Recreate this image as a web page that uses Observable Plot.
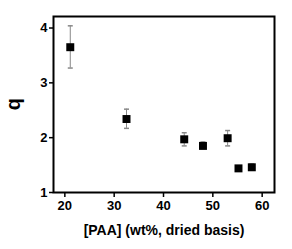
<!DOCTYPE html>
<html><head><meta charset="utf-8">
<script src="https://cdn.jsdelivr.net/npm/d3@7"></script>
<script src="https://cdn.jsdelivr.net/npm/@observablehq/plot@0.6"></script>
<style>body{margin:0;background:#fff}svg{display:block}</style>
</head><body><div id="c"></div>
<script>
const paa = [21.1, 32.5, 44.2, 48.0, 53.0, 55.2, 57.9];
const q = [3.65, 2.34, 1.97, 1.85, 1.99, 1.44, 1.46];
const qLow = [3.27, 2.17, 1.85, 1.80, 1.85, 1.41, 1.41];
const qHigh = [4.04, 2.52, 2.09, 1.92, 2.13, 1.47, 1.52];
const xTicks = [20, 30, 40, 50, 60];
const yTicks = [1, 2, 3, 4];
const xTitle = "[PAA] (wt%, dried basis)";
const yTitle = "q";
const data = paa.map((x, i) => ({x, q: q[i], lo: qLow[i], hi: qHigh[i]}));
const caps = data.flatMap(d => [{x: d.x, y: d.lo}, {x: d.x, y: d.hi}]);
const capSymbol = {draw(ctx, size) { const w = 2.5; ctx.moveTo(-w, 0); ctx.lineTo(w, 0); }};
const font = "'Liberation Sans', Arial, sans-serif";
const chart = Plot.plot({
  width: 292, height: 249,
  marginLeft: 53, marginRight: 18, marginTop: 16, marginBottom: 57,
  style: {fontFamily: font, fontWeight: "bold", fontSize: "13px", background: "#fff"},
  x: {domain: [17.7, 62.5]},
  y: {domain: [1, 4.21]},
  marks: [
    Plot.ruleX(data, {x: "x", y1: "lo", y2: "hi", stroke: "#888", strokeWidth: 1}),
    Plot.dot(caps, {x: "x", y: "y", symbol: capSymbol, stroke: "#888", fill: "none", r: 3}),
    Plot.dot(data, {x: "x", y: "q", symbol: "square", r: 4.5, fill: "black", stroke: "none"}),
    Plot.frame({stroke: "black", strokeWidth: 2}),
    Plot.axisX({ticks: xTicks, tickSize: 5, tickPadding: 3, tickFormat: d => d, strokeWidth: 1.5, fontSize: 13, label: null}),
    Plot.axisY({ticks: yTicks, tickSize: 4, tickPadding: 2, tickFormat: d => d, strokeWidth: 1.5, fontSize: 13, label: null}),
    Plot.text([xTitle], {frameAnchor: "bottom", dy: 42, fontSize: 14, fontWeight: "bold"}),
    Plot.text([yTitle], {y: [2.5], frameAnchor: "left", dx: -40, rotate: -90, fontSize: 20, fontWeight: "bold"})
  ]
});
document.getElementById("c").appendChild(chart);
</script>
</body></html>
